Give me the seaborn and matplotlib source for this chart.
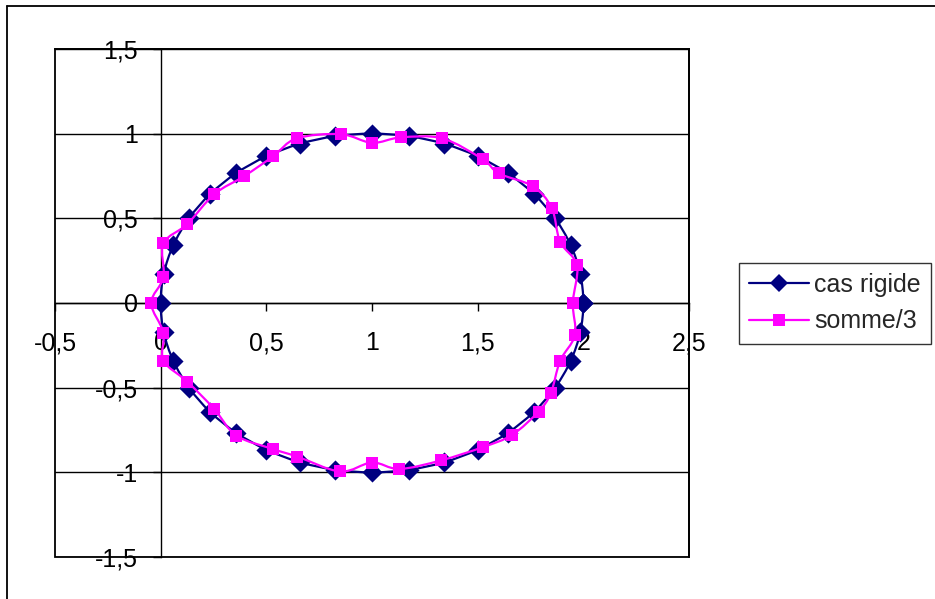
import matplotlib
matplotlib.use("Agg")
import matplotlib.pyplot as plt
import seaborn as sns
import numpy as np
import pandas as pd
from matplotlib.path import Path
from matplotlib.patches import PathPatch, Rectangle
from matplotlib.lines import Line2D

# ---------------- data ----------------
rigide_x = [2, 1.985, 1.940, 1.866, 1.766, 1.643, 1.5, 1.342, 1.174, 1.0,
            0.826, 0.658, 0.5, 0.357, 0.234, 0.134, 0.060, 0.015, 0.0,
            0.015, 0.060, 0.134, 0.234, 0.357, 0.5, 0.658, 0.826, 1.0,
            1.174, 1.342, 1.5, 1.643, 1.766, 1.866, 1.940, 1.985, 2]
rigide_y = [0, 0.174, 0.342, 0.5, 0.643, 0.766, 0.866, 0.940, 0.985, 1.0,
            0.985, 0.940, 0.866, 0.766, 0.643, 0.5, 0.342, 0.174, 0.0,
            -0.174, -0.342, -0.5, -0.643, -0.766, -0.866, -0.940, -0.985, -1.0,
            -0.985, -0.940, -0.866, -0.766, -0.643, -0.5, -0.342, -0.174, 0]

somme_x = [1.95, 1.97, 1.89, 1.85, 1.76, 1.60, 1.525, 1.333, 1.137, 1.0,
           0.852, 0.643, 0.533, 0.395, 0.254, 0.126, 0.013, 0.013, -0.045,
           0.013, 0.013, 0.126, 0.254, 0.358, 0.533, 0.646, 0.85, 1.0,
           1.13, 1.325, 1.525, 1.663, 1.788, 1.846, 1.89, 1.96, 1.95]
somme_y = [0.0, 0.222, 0.362, 0.562, 0.690, 0.765, 0.848, 0.972, 0.978, 0.946,
           0.997, 0.972, 0.867, 0.749, 0.643, 0.466, 0.352, 0.152, 0.0,
           -0.175, -0.340, -0.464, -0.627, -0.783, -0.863, -0.907, -0.995, -0.942,
           -0.980, -0.930, -0.851, -0.779, -0.641, -0.533, -0.342, -0.190, 0.0]

series_names = ["cas rigide", "somme/3"]
x_ticks = [-0.5, 0, 0.5, 1, 1.5, 2, 2.5]
x_tick_labels = ["-0,5", "0", "0,5", "1", "1,5", "2", "2,5"]
y_ticks = [-1.5, -1, -0.5, 0, 0.5, 1, 1.5]
y_tick_labels = ["-1,5", "-1", "-0,5", "0", "0,5", "1", "1,5"]

NAVY = "#000080"
MAGENTA = "#FF00FF"
FS = 18

sns.set_style("white")
plt.rcParams["font.family"] = ["Liberation Sans", "DejaVu Sans"]

W, H = 935, 599
fig = plt.figure(figsize=(W / 100, H / 100), dpi=100)
ax = fig.add_axes([55 / W, 1 - 557 / H, (689 - 55) / W, (557 - 49) / H])


def smooth_path(xs, ys):
    """Catmull-Rom style bezier through the given points (Excel smoothing)."""
    pts = np.column_stack([xs, ys]).astype(float)
    n = len(pts)
    closed = np.allclose(pts[0], pts[-1])
    verts = [pts[0]]
    codes = [Path.MOVETO]
    for i in range(n - 1):
        p0 = pts[i - 1] if i > 0 else (pts[-2] if closed else pts[0])
        p1 = pts[i]
        p2 = pts[i + 1]
        p3 = pts[i + 2] if i + 2 < n else (pts[1] if closed else pts[-1])
        c1 = p1 + (p2 - p0) / 6.0
        c2 = p2 - (p3 - p1) / 6.0
        verts += [c1, c2, p2]
        codes += [Path.CURVE4] * 3
    return Path(verts, codes)


df_r = pd.DataFrame({"x": rigide_x, "y": rigide_y})
df_s = pd.DataFrame({"x": somme_x, "y": somme_y})

ax.add_patch(PathPatch(smooth_path(rigide_x, rigide_y), fill=False,
                       edgecolor=NAVY, lw=1.6, zorder=3))
sns.scatterplot(data=df_r, x="x", y="y", marker="D", s=105, color=NAVY,
                edgecolor=NAVY, linewidth=0, ax=ax, zorder=4, legend=False)
ax.add_patch(PathPatch(smooth_path(somme_x, somme_y), fill=False,
                       edgecolor=MAGENTA, lw=1.6, zorder=5))
sns.scatterplot(data=df_s, x="x", y="y", marker="s", s=85, color=MAGENTA,
                edgecolor=MAGENTA, linewidth=0, ax=ax, zorder=6, legend=False)

ax.set_xlim(-0.5, 2.5)
ax.set_ylim(-1.5, 1.5)

# horizontal gridlines
for yv in y_ticks:
    ax.axhline(yv, color="black", lw=1.0, zorder=1)

# axes crossing at zero
for side in ["left", "bottom"]:
    ax.spines[side].set_position(("data", 0))
    ax.spines[side].set_color("black")
    ax.spines[side].set_linewidth(1.0)
    ax.spines[side].set_zorder(2)
for side in ["top", "right"]:
    ax.spines[side].set_visible(True)
    ax.spines[side].set_color("black")
    ax.spines[side].set_linewidth(1.3)
# outer plot frame left & bottom
ax.add_patch(Rectangle((0, 0), 1, 1, transform=ax.transAxes, fill=False,
                       edgecolor="black", lw=1.3, clip_on=False, zorder=2))

ax.set_xticks(x_ticks)
ax.set_xticklabels(x_tick_labels)
ax.set_yticks(y_ticks)
ax.set_yticklabels(y_tick_labels)
ax.tick_params(axis="x", direction="out", length=6, width=1, pad=14.5,
               labelsize=FS, colors="black", bottom=True)
ax.tick_params(axis="y", direction="out", length=6, width=1, pad=10.5,
               labelsize=FS, colors="black", left=True)
ax.set_xlabel("")
ax.set_ylabel("")
ax.grid(False)

# legend
handles = [
    Line2D([], [], color=NAVY, lw=1.6, marker="D", markersize=9,
           markeredgewidth=0),
    Line2D([], [], color=MAGENTA, lw=1.6, marker="s", markersize=8.5,
           markeredgewidth=0),
]
leg = fig.legend(handles, series_names, loc="upper left",
                 bbox_to_anchor=(739 / W, 1 - 263 / H), borderaxespad=0,
                 fontsize=FS, frameon=True, fancybox=False, shadow=False,
                 handlelength=2.4, handletextpad=0.22, borderpad=0.4,
                 labelspacing=0.5)
leg.get_frame().set_edgecolor("black")
leg.get_frame().set_linewidth(1.0)

# outer chart border
fig.add_artist(Line2D([7 / W, 7 / W], [0, 1 - 6 / H], transform=fig.transFigure,
                      color="black", lw=1.3))
fig.add_artist(Line2D([7 / W, 1], [1 - 6 / H, 1 - 6 / H], transform=fig.transFigure,
                      color="black", lw=1.3))

fig.savefig("out.png", dpi=100)
